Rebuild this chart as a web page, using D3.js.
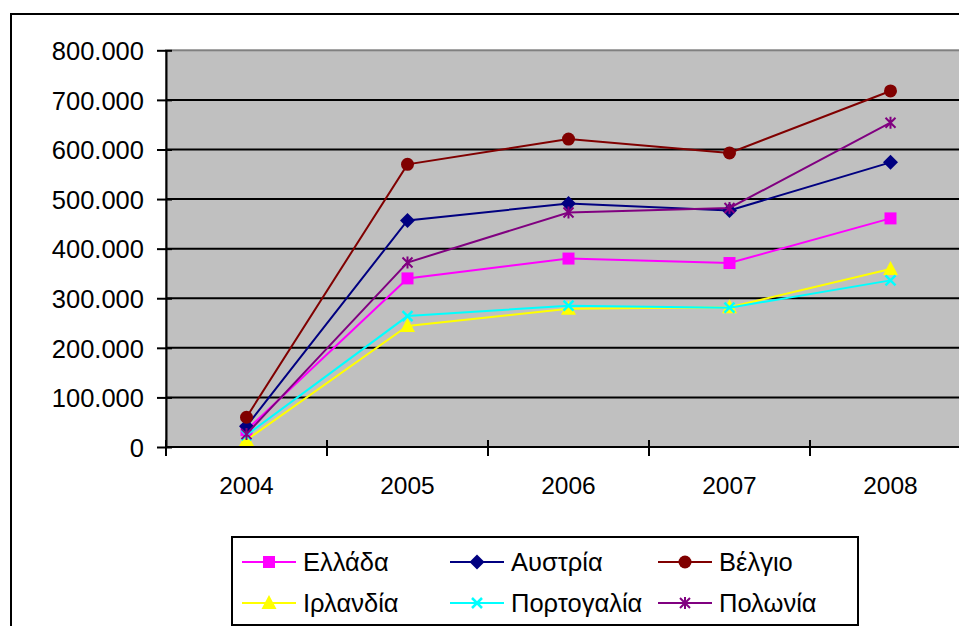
<!DOCTYPE html>
<html><head><meta charset="utf-8">
<script src="https://cdn.jsdelivr.net/npm/d3@7"></script>
<style>body{margin:0;background:#fff;}svg{display:block;font-family:"Liberation Sans",Arial,sans-serif;}</style>
</head><body>
<script>
const years = ["2004","2005","2006","2007","2008"];
const seriesNames = ["Ελλάδα","Αυστρία","Βέλγιο","Ιρλανδία","Πορτογαλία","Πολωνία"];
const ellada     = [34000, 340000, 380000, 371000, 461000];
const austria    = [42000, 457000, 491000, 477000, 574000];
const belgio     = [60000, 570000, 621000, 593000, 718000];
const irlandia   = [14000, 244000, 279000, 282000, 359000];
const portogalia = [24000, 264000, 285000, 281000, 336000];
const polonia    = [26000, 372000, 473000, 482000, 654000];
const yTicks = [0,100000,200000,300000,400000,500000,600000,700000,800000];
const yTickLabels = ["0","100.000","200.000","300.000","400.000","500.000","600.000","700.000","800.000"];

const seriesValues = [ellada, austria, belgio, irlandia, portogalia, polonia];
const colors = ["#FF00FF","#000080","#800000","#FFFF00","#00FFFF","#800080"];
const markers = ["square","diamond","circle","triangle","x","star"];

const W=959,H=626;
const svg=d3.select("body").append("svg").attr("width",W).attr("height",H);

// outer chart border
svg.append("rect").attr("x",11).attr("y",14).attr("width",W+20).attr("height",H+20)
  .attr("fill","#fff").attr("stroke","#000").attr("stroke-width",2);

const L=166, R=971, T=50.3, B=447;
const x=d3.scaleBand().domain(years).range([L,R]);
const y=d3.scaleLinear().domain([0,800000]).range([B,T]);

svg.append("rect").attr("x",L).attr("y",T).attr("width",R-L).attr("height",B-T)
  .attr("fill","#C0C0C0").attr("stroke","#808080").attr("stroke-width",2);

// gridlines
svg.append("g").selectAll("line").data(yTicks.slice(1,-1)).join("line")
  .attr("x1",L).attr("x2",R).attr("y1",d=>y(d)).attr("y2",d=>y(d))
  .attr("stroke","#000").attr("stroke-width",2);

// y axis
const yAxis=d3.axisLeft(y).tickValues(yTicks).tickFormat((d,i)=>yTickLabels[i]).tickSizeInner(8).tickSizeOuter(0).tickPadding(14);
const gy=svg.append("g").attr("transform",`translate(${L},0)`).call(yAxis);
gy.select(".domain").attr("stroke","#000").attr("stroke-width",2);
gy.selectAll(".tick line").attr("stroke","#000").attr("stroke-width",2).attr("x1",6).attr("x2",-9);
gy.selectAll(".tick text").attr("font-size",25.5).attr("fill","#000").attr("font-family","Liberation Sans, Arial, sans-serif").attr("dy","0.36em");

// x axis
const xTickPos = years.map(d=>x(d)).concat([R]);
const gx=svg.append("g");
gx.append("line").attr("x1",L).attr("x2",R).attr("y1",B).attr("y2",B).attr("stroke","#000").attr("stroke-width",2);
gx.selectAll("line.t").data(xTickPos).join("line").attr("class","t")
  .attr("x1",d=>d).attr("x2",d=>d).attr("y1",B-7).attr("y2",B+9).attr("stroke","#000").attr("stroke-width",2);
gx.selectAll("text").data(years).join("text")
  .attr("x",d=>x(d)+x.bandwidth()/2).attr("y",494).attr("text-anchor","middle")
  .attr("font-size",24.5).attr("fill","#000").text(d=>d);

function drawMarker(g,type,cx,cy,color){
  if(type==="square"){
    g.append("rect").attr("x",cx-6).attr("y",cy-6).attr("width",12).attr("height",12).attr("fill",color);
  } else if(type==="diamond"){
    g.append("path").attr("d",`M${cx},${cy-7.5}L${cx+7.5},${cy}L${cx},${cy+7.5}L${cx-7.5},${cy}Z`).attr("fill",color);
  } else if(type==="circle"){
    g.append("circle").attr("cx",cx).attr("cy",cy).attr("r",6.5).attr("fill",color);
  } else if(type==="triangle"){
    g.append("path").attr("d",`M${cx},${cy-8}L${cx+7.5},${cy+6}L${cx-7.5},${cy+6}Z`).attr("fill",color);
  } else if(type==="x"){
    g.append("path").attr("d",`M${cx-5},${cy-5}L${cx+5},${cy+5}M${cx-5},${cy+5}L${cx+5},${cy-5}`).attr("stroke",color).attr("stroke-width",2.5).attr("fill","none");
  } else if(type==="star"){
    g.append("path").attr("d",`M${cx-5},${cy-5}L${cx+5},${cy+5}M${cx-5},${cy+5}L${cx+5},${cy-5}M${cx},${cy-6}L${cx},${cy+6}`).attr("stroke",color).attr("stroke-width",2).attr("fill","none");
  }
}

const cxOf=d=>x(d)+x.bandwidth()/2;
const line=d3.line().x((v,i)=>cxOf(years[i])).y(v=>y(v));
seriesValues.forEach((vals,si)=>{
  const g=svg.append("g");
  g.append("path").datum(vals).attr("d",line).attr("fill","none").attr("stroke",colors[si]).attr("stroke-width",2);
  vals.forEach((v,i)=>drawMarker(g,markers[si],cxOf(years[i]),y(v),colors[si]));
});

// legend
const lg=svg.append("g");
lg.append("rect").attr("x",232).attr("y",537).attr("width",626).attr("height",88)
  .attr("fill","#fff").attr("stroke","#000").attr("stroke-width",2);
const colX=[242,450,658], rowY=[562,603], rowBase=[570.5,611.5];
seriesNames.forEach((name,i)=>{
  const c=i%3, r=Math.floor(i/3);
  const x0=colX[c], yy=rowY[r];
  lg.append("line").attr("x1",x0).attr("x2",x0+54).attr("y1",yy).attr("y2",yy).attr("stroke",colors[i]).attr("stroke-width",2);
  drawMarker(lg,markers[i],x0+27,yy,colors[i]);
  lg.append("text").attr("x",x0+61).attr("y",rowBase[r]).attr("font-size",25.5).attr("fill","#000").text(name);
});
</script>
</body></html>
